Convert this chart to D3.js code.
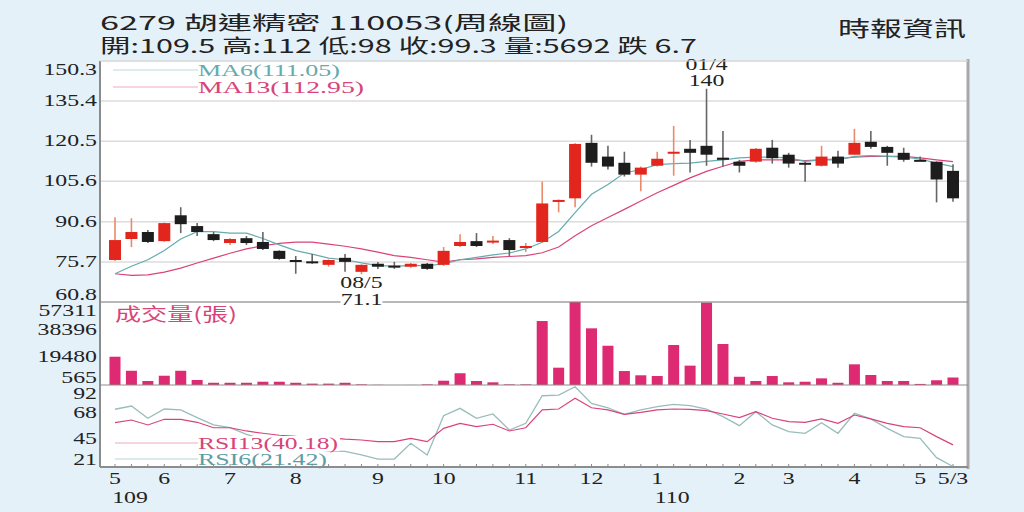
<!DOCTYPE html>
<html>
<head>
<meta charset="utf-8">
<script src="https://cdn.jsdelivr.net/npm/d3@7"></script>
<style>
	body { margin: 0; background: #e5f1f8; }
	svg { display: block; }
</style>
</head>
<body>
<div id="chart"></div>
<script>
// weekly candles 109/05 .. 110/05/3
const opens = [76.4, 84.2, 86.8, 83.4, 93.0, 89.0, 86.0, 82.7, 84.5, 83.1, 79.8, 76.4, 75.9, 74.6, 77.2, 72.0, 75.0, 74.3, 73.9, 75.0,
	74.6, 81.6, 83.4, 83.0, 83.8, 80.9, 83.1, 98.3, 99.3, 119.9, 114.8, 112.5, 108.1, 111.4, 115.9, 117.7, 118.8, 114.4, 112.9, 112.9,
	118.1, 115.5, 112.5, 111.4, 114.8, 115.5, 120.3, 118.4, 116.2, 113.6, 112.9, 109.5]
const highs = [92.3, 91.9, 87.5, 90.3, 96.0, 90.1, 86.8, 84.5, 85.3, 86.8, 80.0, 77.9, 78.6, 76.6, 78.6, 74.8, 75.7, 75.7, 75.3, 75.3,
	81.2, 86.0, 86.4, 85.3, 84.5, 82.7, 105.5, 98.9, 119.8, 122.9, 118.8, 116.6, 111.1, 116.6, 126.2, 121.0, 140.0, 124.3, 113.6, 118.0,
	121.0, 116.2, 112.9, 118.8, 117.0, 125.1, 124.3, 118.8, 118.1, 114.8, 113.0, 112.0]
const lows = [76.0, 81.2, 82.7, 83.2, 86.4, 85.3, 83.4, 82.0, 82.0, 80.1, 76.5, 71.3, 75.0, 73.9, 72.0, 71.1, 73.1, 73.1, 73.5, 72.8,
	74.2, 81.2, 81.2, 82.3, 77.9, 79.4, 82.7, 94.1, 96.0, 111.1, 110.0, 107.4, 101.9, 111.1, 107.7, 108.9, 111.4, 111.1, 108.9, 112.5,
	112.2, 110.7, 105.5, 111.1, 110.7, 115.5, 117.7, 111.4, 112.9, 113.3, 97.8, 98.0]
const closes = [83.8, 86.8, 83.1, 90.1, 89.7, 86.8, 83.8, 84.2, 82.7, 80.5, 76.8, 75.7, 75.7, 76.4, 75.7, 74.6, 73.9, 74.2, 75.0, 73.1,
	79.8, 83.1, 81.6, 83.6, 80.1, 81.6, 97.4, 98.7, 119.5, 112.5, 111.1, 108.1, 110.7, 114.0, 116.6, 116.2, 115.5, 113.6, 111.4, 117.7,
	114.2, 112.2, 111.8, 114.8, 112.2, 119.9, 118.4, 116.2, 113.6, 113.3, 106.3, 99.3]
const ma6 = [71.3, 74.1, 76.5, 79.9, 84.2, 86.9, 86.9, 86.4, 86.4, 84.4, 82.0, 79.9, 78.6, 77.1, 76.5, 75.3, 74.3, 74.1, 74.3, 74.3,
	74.9, 76.5, 77.4, 78.3, 79.0, 80.5, 83.0, 87.0, 94.0, 100.8, 104.4, 108.7, 110.0, 111.8, 112.2, 112.4, 113.0, 113.6, 114.3, 114.6,
	114.6, 114.3, 113.0, 113.6, 113.6, 114.9, 115.2, 114.9, 114.6, 113.9, 112.4, 111.05]
const ma13 = [71.3, 70.7, 70.9, 71.9, 73.4, 75.3, 77.1, 78.9, 80.5, 81.7, 82.6, 83.0, 83.0, 82.3, 81.5, 80.5, 79.3, 78.0, 77.4, 76.5,
	75.6, 76.5, 76.8, 77.4, 77.7, 78.0, 79.1, 81.2, 85.4, 89.1, 92.2, 95.2, 98.3, 101.4, 104.1, 106.9, 109.3, 111.2, 113.0, 113.6,
	113.6, 113.6, 113.3, 113.6, 114.0, 114.6, 114.9, 114.9, 114.9, 114.3, 113.6, 112.95]
const volumes = [19900, 10300, 3300, 6900, 10300, 4000, 2100, 2100, 2100, 2800, 2800, 2100, 1500, 1500, 2100, 1000, 700, 565, 600, 1000,
	3500, 8600, 3300, 2400, 1000, 1000, 44300, 12400, 57311, 39300, 27400, 10100, 7200, 6700, 27900, 13800, 56900, 28600, 6200, 3300,
	6700, 2400, 2800, 5100, 2100, 14700, 7400, 3300, 3300, 1300, 3800, 5692]
const rsi6 = [71.0, 73.8, 63.2, 71.2, 70.4, 63.7, 57.4, 55.0, 49.3, 45.0, 37.0, 35.5, 36.0, 35.0, 34.5, 31.4, 27.9, 27.9, 41.5, 31.4,
	65.4, 71.8, 63.2, 66.9, 53.0, 58.8, 82.7, 83.3, 90.5, 76.1, 72.3, 66.6, 70.4, 73.2, 75.3, 74.1, 71.2, 64.6, 56.8, 68.9,
	57.4, 51.6, 50.2, 59.4, 50.2, 67.5, 62.6, 54.5, 47.3, 45.8, 29.1, 21.42]
const rsi13 = [59.4, 61.7, 57.4, 62.3, 62.3, 59.7, 55.0, 55.0, 52.2, 50.2, 48.5, 47.5, 47.0, 46.5, 45.2, 44.4, 42.9, 42.9, 45.8, 42.9,
	54.5, 58.8, 55.9, 58.0, 52.2, 55.0, 70.4, 71.2, 80.5, 72.3, 70.4, 66.6, 68.3, 70.4, 71.2, 70.9, 69.8, 66.9, 63.7, 68.9,
	63.2, 60.3, 59.7, 62.6, 58.8, 66.0, 62.6, 58.8, 55.9, 55.0, 47.3, 40.18]

const priceTicks = [150.3, 135.4, 120.5, 105.6, 90.6, 75.7, 60.8]
const volTicks = [57311, 38396, 19480, 565]
const rsiTicks = [92, 68, 45, 21]
const monthLabels = ["5", "6", "7", "8", "9", "10", "11", "12", "1", "2", "3", "4", "5", "5/3"]
const monthIdx = [0, 3, 7, 11, 16, 20, 25, 29, 33, 38, 41, 45, 49, 51]
const yearLabels = ["109", "110"]
const yearIdx = [0, 33]

const W = 1024, H = 512
const SX = 1.4 // the source picture is stretched sideways, so is its text
const SERIF = "'Liberation Serif', 'DejaVu Serif', serif"
const CJK = "'Noto Sans CJK TC', 'Noto Sans', sans-serif"
const L = 100, R = 968
const P = { top: 61, bottom: 302 }, V = { top: 302, bottom: 385 }, S = { top: 385, bottom: 467 }
const RED = "#e2261d", BLACK = "#1d1d1d", PINK = "#d8447a", TEAL = "#66abae"

let svg = d3.select("#chart").append("svg")
	.attr("width", W)
	.attr("height", H)

svg.append("rect").attr("width", W).attr("height", H).attr("fill", "#e5f1f8")
svg.append("rect")
	.attr("x", L).attr("y", P.top)
	.attr("width", R - L).attr("height", S.bottom - P.top)
	.attr("fill", "#fff")

let x = d3.scaleLinear().domain([0, closes.length - 1]).range([115, 953])
let y = d3.scaleLinear().domain([60.8, 150.3]).range([P.bottom, P.top])
let yv = d3.scaleLinear().domain([565, 57311]).range([V.bottom, V.top]).clamp(true)
let yr = d3.scaleLinear().domain([21, 92]).range([S.bottom, S.top])

function txt(g, px, py, s, o = {}) {
	return g.append("text")
		.attr("transform", `translate(${px},${py}) scale(${o.sx || SX},1)`)
		.attr("text-anchor", o.anchor || "start")
		.attr("font-family", o.family || SERIF)
		.attr("font-size", o.size || 17)
		.attr("fill", o.fill || "#222")
		.text(s)
}

// header
svg.append("text").attr("x", 100).attr("y", 30)
	.attr("font-family", CJK).attr("font-size", 19).attr("fill", "#222")
	.attr("textLength", 468).attr("lengthAdjust", "spacingAndGlyphs")
	.text("6279  胡連精密 110053(周線圖)")
svg.append("text").attr("x", 100).attr("y", 53)
	.attr("font-family", CJK).attr("font-size", 19).attr("fill", "#222")
	.attr("textLength", 597).attr("lengthAdjust", "spacingAndGlyphs")
	.text("開:109.5 高:112 低:98 收:99.3 量:5692 跌 6.7")
svg.append("text").attr("x", 838).attr("y", 36)
	.attr("font-family", CJK).attr("font-size", 21).attr("fill", "#222")
	.attr("textLength", 128).attr("lengthAdjust", "spacingAndGlyphs")
	.text("時報資訊")

// grid
let grid = svg.append("g").attr("stroke", "#dcdcdc").attr("stroke-width", 1.5)
grid.selectAll("line").data(priceTicks).join("line")
	.attr("x1", L).attr("x2", R)
	.attr("y1", d => y(d)).attr("y2", d => y(d))

// axis labels, pushed inside their panel at the ends
function yLabels(ticks, scale, panel) {
	let g = svg.append("g")
	ticks.forEach(t => {
		let py = Math.min(panel.bottom - 2, Math.max(panel.top + 14, scale(t) + 5))
		txt(g, 97, py, t, { anchor: "end" })
	})
}
yLabels(priceTicks, y, P)
yLabels(volTicks, yv, V)
yLabels(rsiTicks, yr, S)

// moving averages
let line = d3.line().x((d, i) => x(i)).y(d => y(d))
svg.append("path").datum(ma13).attr("d", line)
	.attr("fill", "none").attr("stroke", PINK).attr("stroke-width", 1.2)
svg.append("path").datum(ma6).attr("d", line)
	.attr("fill", "none").attr("stroke", TEAL).attr("stroke-width", 1.2)

// candles
let idx = d3.range(closes.length)
let up = i => closes[i] >= opens[i]
let candles = svg.append("g")
candles.selectAll("line").data(idx).join("line")
	.attr("x1", i => x(i)).attr("x2", i => x(i))
	.attr("y1", i => y(highs[i])).attr("y2", i => y(lows[i]))
	.attr("stroke", i => up(i) ? "#e98a6a" : "#666")
	.attr("stroke-width", 1.6)
candles.selectAll("rect").data(idx).join("rect")
	.attr("x", i => x(i) - 6)
	.attr("width", 12)
	.attr("y", i => y(Math.max(opens[i], closes[i])))
	.attr("height", i => Math.max(2, Math.abs(y(opens[i]) - y(closes[i]))))
	.attr("fill", i => up(i) ? RED : BLACK)

// MA legend
let maLegend = [["MA6(111.05)", TEAL, 70, 142], ["MA13(112.95)", PINK, 87, 166]]
maLegend.forEach(([s, c, ly, len]) => {
	svg.append("line").attr("x1", 113).attr("x2", 198).attr("y1", ly).attr("y2", ly)
		.attr("stroke", c).attr("stroke-opacity", 0.45)
	svg.append("text").attr("x", 198).attr("y", ly + 6)
		.attr("font-family", SERIF).attr("font-size", 17).attr("fill", c)
		.attr("textLength", len).attr("lengthAdjust", "spacingAndGlyphs")
		.text(s)
})

// high / low notes
txt(svg, x(36), 70, "01/4", { anchor: "middle" })
txt(svg, x(36), 86, "140", { anchor: "middle" })
txt(svg, x(15), 288, "08/5", { anchor: "middle" })

// volume
svg.append("g").selectAll("rect").data(volumes).join("rect")
	.attr("x", (d, i) => x(i) - 5.5)
	.attr("width", 11)
	.attr("y", d => yv(d))
	.attr("height", d => V.bottom - yv(d))
	.attr("fill", "#de2a72")
svg.append("text").attr("x", 115).attr("y", 321)
	.attr("font-family", CJK).attr("font-size", 18).attr("fill", PINK)
	.attr("textLength", 122).attr("lengthAdjust", "spacingAndGlyphs")
	.text("成交量(張)")

// RSI
let rline = d3.line().x((d, i) => x(i)).y(d => yr(d))
svg.append("path").datum(rsi6).attr("d", rline)
	.attr("fill", "none").attr("stroke", "#98bdbb").attr("stroke-width", 1.3)
svg.append("path").datum(rsi13).attr("d", rline)
	.attr("fill", "none").attr("stroke", PINK).attr("stroke-width", 1.2)

let rsiLegend = [["RSI13(40.18)", PINK, 443, 140], ["RSI6(21.42)", "#5a9ea6", 459, 129]]
rsiLegend.forEach(([s, c, ly, len]) => {
	svg.append("line").attr("x1", 115).attr("x2", 198).attr("y1", ly).attr("y2", ly)
		.attr("stroke", c).attr("stroke-opacity", 0.45)
	svg.append("rect").attr("x", 198).attr("y", ly - 7).attr("width", len + 2).attr("height", 15)
		.attr("fill", "#fff")
	svg.append("text").attr("x", 198).attr("y", ly + 6)
		.attr("font-family", SERIF).attr("font-size", 16).attr("fill", c)
		.attr("textLength", len).attr("lengthAdjust", "spacingAndGlyphs")
		.text(s)
})

// frame
let frame = svg.append("g").attr("stroke", "#8c8c8c")
frame.append("line").attr("x1", L).attr("x2", L).attr("y1", P.top).attr("y2", S.bottom).attr("stroke-width", 2)
frame.append("line").attr("x1", R).attr("x2", R).attr("y1", P.top - 2).attr("y2", S.bottom + 2)
	.attr("stroke", "#a8a8a8").attr("stroke-width", 3)
frame.append("line").attr("x1", L).attr("x2", R).attr("y1", P.top).attr("y2", P.top).attr("stroke", "#dcdcdc")
frame.append("line").attr("x1", L).attr("x2", R).attr("y1", P.bottom).attr("y2", P.bottom)
frame.append("line").attr("x1", L).attr("x2", R).attr("y1", V.bottom).attr("y2", V.bottom)
frame.append("line").attr("x1", L).attr("x2", R).attr("y1", S.bottom).attr("y2", S.bottom).attr("stroke-width", 2)
frame.selectAll("line.tick").data(idx).join("line").attr("class", "tick")
	.attr("x1", i => x(i)).attr("x2", i => x(i))
	.attr("y1", S.bottom).attr("y2", S.bottom - 3)

// low note sits on the panel divider
svg.append("rect").attr("x", x(15) - 21).attr("y", 294).attr("width", 42).attr("height", 12).attr("fill", "#fff")
txt(svg, x(15), 305, "71.1", { anchor: "middle" })

// x labels
let xl = svg.append("g")
monthLabels.forEach((m, i) => txt(xl, x(monthIdx[i]), 484, m, { anchor: "middle", size: 17 }))
yearLabels.forEach((m, i) => txt(xl, x(yearIdx[i]) + 15, 503, m, { anchor: "middle", size: 17 }))
</script>
</body>
</html>
